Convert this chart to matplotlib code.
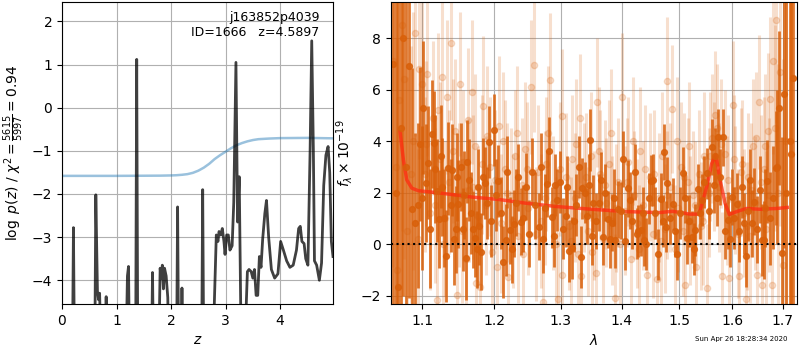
import numpy as np
import matplotlib
matplotlib.use("Agg")
import matplotlib.pyplot as plt
from matplotlib.ticker import FixedLocator, FixedFormatter, NullLocator

# ---- p(z) panel -----------------------------------------------------------
z_grid = [0.0, 0.19, 0.21, 0.23, 0.60, 0.62, 0.65, 0.67, 0.69, 0.72, 0.79, 0.81,
          0.83, 1.17, 1.20, 1.22, 1.24, 1.35, 1.37, 1.39, 1.64, 1.66, 1.68, 1.77,
          1.80, 1.82, 1.84, 1.86, 1.88, 1.91, 1.94, 1.96, 2.10, 2.12, 2.14, 2.18,
          2.20, 2.22, 2.56, 2.58, 2.60, 2.76, 2.83, 2.86, 2.88, 2.91, 2.94, 2.97,
          2.99, 3.02, 3.05, 3.08, 3.12, 3.15, 3.19, 3.22, 3.25, 3.29, 3.34, 3.40,
          3.43, 3.47, 3.50, 3.53, 3.56, 3.59, 3.62, 3.65, 3.68, 3.72, 3.75, 3.79,
          3.84, 3.90, 3.96, 4.01, 4.06, 4.12, 4.18, 4.24, 4.30, 4.34, 4.37, 4.40,
          4.44, 4.47, 4.51, 4.55, 4.58, 4.61, 4.63, 4.67, 4.72, 4.76, 4.80, 4.84,
          4.88, 4.91, 4.94, 4.97]
logpz = [-6, -6, -2.78, -6, -6, -2.02, -4.25, -4.45, -4.3, -6, -6, -4.38,
         -6, -6, -3.9, -3.68, -6, -6, 1.12, -6, -6, -3.82, -6, -6,
         -3.72, -3.95, -3.65, -4.2, -3.72, -3.9, -4.4, -6, -6, -2.3, -6, -6,
         -4.18, -6, -6, -1.9, -6, -6, -2.95, -3.1, -2.87, -2.95, -2.8, -3.1,
         -3.4, -2.95, -2.95, -3.3, -3.2, -2.2, 1.05, -2.65, -1.6, -6, -6, -3.8,
         -3.75, -3.8, -3.95, -3.75, -4.35, -4.35, -3.45, -3.7, -3.05, -2.45, -2.15, -3.0,
         -3.75, -3.95, -3.85, -3.1, -3.3, -3.55, -3.7, -3.65, -3.3, -2.8, -2.75, -3.1,
         -3.15, -3.5, -3.65, -1.0, 1.55, -1.0, -3.55, -3.65, -4.0, -3.6, -1.8, -1.1,
         -0.9, -1.5, -3.1, -3.45]

chi2_z = [0.0, 1.0, 1.8, 2.0, 2.1, 2.2, 2.3, 2.4, 2.5, 2.6, 2.7, 2.8, 2.9, 3.0, 3.1,
          3.2, 3.3, 3.4, 3.5, 3.6, 3.8, 4.0, 4.5, 4.97]
chi2_v = [-1.58, -1.58, -1.575, -1.57, -1.565, -1.555, -1.54, -1.51, -1.46, -1.39, -1.30,
          -1.19, -1.10, -1.02, -0.94, -0.87, -0.82, -0.78, -0.75, -0.73, -0.715, -0.705,
          -0.70, -0.71]

# ---- spectrum panel: dark grism (wave [um], flux, err) ---------------------
dark_wave = [1.0686, 1.0750, 1.0829, 1.0868, 1.0939, 1.0969, 1.1013, 1.1049, 1.1080, 1.1125,
             1.1156, 1.1193, 1.1228, 1.1268, 1.1315, 1.1350, 1.1404, 1.1454, 1.1485, 1.1522,
             1.1553, 1.1590, 1.1634, 1.1690, 1.1717, 1.1744, 1.1781, 1.1842, 1.1864, 1.1919,
             1.1989, 1.2051, 1.2128, 1.2163, 1.2227, 1.2288, 1.2385, 1.2462, 1.2666, 1.2732,
             1.2785, 1.2820, 1.2862, 1.2913, 1.2992, 1.3081, 1.3134, 1.3176, 1.3218, 1.3298,
             1.3346, 1.3390, 1.3427, 1.3471, 1.3525, 1.3564, 1.3652, 1.3690, 1.3763, 1.3801,
             1.3839, 1.3884, 1.3930, 1.4024, 1.4109, 1.4178, 1.4281, 1.4328, 1.4385, 1.4467,
             1.4502, 1.4542, 1.4678, 1.4737, 1.4758, 1.4790, 1.4839, 1.4887, 1.4929, 1.4970,
             1.5079, 1.5141, 1.5233, 1.5294, 1.5355, 1.5418, 1.5512, 1.5606, 1.5668, 1.5731,
             1.5815, 1.5910, 1.5988, 1.6084, 1.6266, 1.6345, 1.6424, 1.6490, 1.6578, 1.6624,
             1.6690, 1.6745, 1.6866, 1.6934, 1.6983, 1.7030, 1.7154, 1.7210,
             1.0620, 1.0655, 1.0720, 1.0790, 1.0900, 1.0990, 1.1100, 1.1170, 1.1250, 1.1290,
             1.1380, 1.1430, 1.1470, 1.1570, 1.1610, 1.1660, 1.1760, 1.1810, 1.1890, 1.1950,
             1.2020, 1.2090, 1.2190, 1.2260, 1.2320, 1.2350, 1.2420, 1.2510, 1.2560, 1.2610,
             1.2700, 1.2760, 1.2890, 1.2950, 1.3030, 1.3100, 1.3250, 1.3320, 1.3450, 1.3500,
             1.3620, 1.3720, 1.3860, 1.3980, 1.4060, 1.4140, 1.4220, 1.4250, 1.4360, 1.4420,
             1.4580, 1.4620, 1.4710, 1.5020, 1.5110, 1.5190, 1.5270, 1.5390, 1.5460, 1.5560,
             1.5640, 1.5700, 1.5770, 1.5860, 1.5950, 1.6030, 1.6130, 1.6190, 1.6220, 1.6300,
             1.6390, 1.6540, 1.6650, 1.6800, 1.6890, 1.7080, 1.7180]
dark_flux = [-1.66, 8.0, 6.9, 1.35, 1.5, 3.88, 5.3, 2.36, 3.16, 4.27,
             3.93, 2.06, 0.96, 2.2, -0.46, 2.94, 2.87, 0.57, 1.55, 3.0,
             0.57, -0.56, 2.49, 0.57, 0.22, -0.2, 0.7, 2.62, 2.36, 3.97,
             4.42, 2.43, -0.69, 0.16, 0.54, 0.78, 0.86, 2.23, 0.68, 0.18,
             2.35, 3.62, 1.03, 2.29, 2.42, 1.09, -0.26, -0.17, 0.9, 3.0,
             2.16, 2.0, 1.09, 4.04, 1.58, 0.9, 2.49, 0.28, 0.96, 0.18,
             0.83, 0.16, 1.35, 3.3, 2.16, 0.9, 0.51, 0.54, 0.16, 1.77,
             2.46, 2.49, 1.74, 3.58, 0.68, 2.38, 1.0, 1.55, 0.51, -0.4,
             2.76, 0.22, 0.28, 0.54, 2.12, 1.71, 2.74, 3.77, 3.4, 4.14,
             4.14, 0.92, 1.83, 1.55, -0.46, 2.49, 1.65, 0.57, 0.16, 0.16,
             2.43, 1.0, 2.95, 5.28, -0.36, 5.83, 4.0, 6.45,
             7.0, 2.0, 4.5, 3.0, 0.8, 1.8, 0.6, 2.9, 3.4, 1.0,
             1.5, 0.2, 2.6, 1.9, 3.2, 1.2, 2.2, -0.3, 1.6, 0.9,
             1.9, 1.2, 2.8, -0.2, 1.6, 2.6, 1.0, 0.4, 2.8, 1.5,
             3.0, 1.4, 0.3, 1.7, 0.6, 2.2, 1.5, -0.5, 2.3, 0.3,
             1.6, 2.0, 1.8, 1.3, 0.1, 1.7, 2.8, 0.4, 1.2, 0.0,
             1.2, -0.4, 0.9, 1.2, 1.8, 0.9, -0.2, 1.2, 2.4, 1.3,
             2.3, 1.8, 2.6, 0.5, 0.2, 1.0, 0.5, 2.2, 0.8, 1.3,
             0.8, 2.1, 1.4, 1.8, 3.0, 2.0, 3.5]
dark_err = [12, 10, 9, 5.5, 3.2, 3.0, 2.6, 2.3, 2.2, 2.1,
            2.0, 2.0, 1.9, 1.9, 1.8, 1.8, 1.8, 1.7, 1.7, 1.7,
            1.6, 1.6, 1.6, 1.5, 1.5, 1.5, 1.5, 1.5, 1.4, 1.4,
            1.4, 1.4, 1.4, 1.4, 1.3, 1.3, 1.3, 1.3, 1.3, 1.3,
            1.3, 1.3, 1.2, 1.2, 1.2, 1.2, 1.2, 1.2, 1.2, 1.2,
            1.2, 1.2, 1.1, 1.2, 1.1, 1.1, 1.1, 1.1, 1.1, 1.1,
            1.1, 1.1, 1.1, 1.1, 1.1, 1.1, 1.0, 1.0, 1.0, 1.0,
            1.0, 1.0, 1.0, 1.1, 1.0, 1.0, 1.0, 1.0, 1.0, 1.0,
            1.0, 1.0, 1.0, 1.0, 1.0, 1.0, 1.0, 1.1, 1.1, 1.1,
            1.1, 1.1, 1.1, 1.2, 1.2, 1.2, 1.3, 1.3, 1.4, 1.5,
            1.6, 1.8, 2.2, 3.0, 4.5, 6.0, 9.0, 12,
            12, 12, 11, 9, 3.5, 2.8, 2.3, 2.1, 2.0, 1.9,
            1.8, 1.8, 1.7, 1.7, 1.6, 1.6, 1.5, 1.5, 1.4, 1.4,
            1.4, 1.4, 1.4, 1.3, 1.3, 1.3, 1.3, 1.3, 1.3, 1.3,
            1.3, 1.3, 1.2, 1.2, 1.2, 1.2, 1.2, 1.2, 1.2, 1.1,
            1.1, 1.1, 1.1, 1.1, 1.1, 1.1, 1.1, 1.0, 1.0, 1.0,
            1.0, 1.0, 1.0, 1.0, 1.0, 1.0, 1.0, 1.0, 1.0, 1.1,
            1.1, 1.1, 1.1, 1.1, 1.1, 1.2, 1.2, 1.2, 1.2, 1.2,
            1.3, 1.3, 1.5, 2.0, 3.0, 9.0, 12]

# ---- spectrum panel: light grism -------------------------------------------
light_wave = [1.0621, 1.0650, 1.0690, 1.0759, 1.0800, 1.0850, 1.0903, 1.0940, 1.0990, 1.1030,
              1.1067, 1.1100, 1.1140, 1.1193, 1.1230, 1.1261, 1.1300, 1.1329, 1.1360, 1.1388,
              1.1420, 1.1467, 1.1500, 1.1517, 1.1560, 1.1600, 1.1640, 1.1677, 1.1720, 1.1760,
              1.1794, 1.1842, 1.1880, 1.1930, 1.1970, 1.2010, 1.2060, 1.2100, 1.2150, 1.2200,
              1.2250, 1.2300, 1.2350, 1.2400, 1.2450, 1.2500, 1.2540, 1.2594, 1.2650, 1.2690,
              1.2723, 1.2780, 1.2836, 1.2880, 1.2920, 1.2965, 1.3018, 1.3028, 1.3080, 1.3130,
              1.3180, 1.3230, 1.3280, 1.3309, 1.3326, 1.3380, 1.3430, 1.3480, 1.3530, 1.3569,
              1.3591, 1.3640, 1.3690, 1.3740, 1.3790, 1.3840, 1.3884, 1.3930, 1.3970, 1.4008,
              1.4060, 1.4110, 1.4160, 1.4210, 1.4260, 1.4310, 1.4360, 1.4427, 1.4480, 1.4530,
              1.4602, 1.4650, 1.4700, 1.4750, 1.4790, 1.4830, 1.4880, 1.4930, 1.4980, 1.5030,
              1.5070, 1.5110, 1.5160, 1.5210, 1.5260, 1.5310, 1.5360, 1.5410, 1.5460, 1.5512,
              1.5560, 1.5610, 1.5650, 1.5700, 1.5750, 1.5807, 1.5850, 1.5890, 1.5941, 1.6018,
              1.6060, 1.6100, 1.6135, 1.6180, 1.6220, 1.6263, 1.6300, 1.6350, 1.6400, 1.6450,
              1.6490, 1.6524, 1.6578, 1.6620, 1.6660, 1.6700, 1.6745, 1.6779, 1.6812, 1.6866,
              1.6910, 1.6948, 1.7017, 1.7080,
              1.0670, 1.0730, 1.0880, 1.0960, 1.1050, 1.1170, 1.1210, 1.1280, 1.1440, 1.1540,
              1.1620, 1.1700, 1.1740, 1.1820, 1.1900, 1.2040, 1.2120, 1.2180, 1.2280, 1.2330,
              1.2420, 1.2480, 1.2620, 1.2750, 1.2810, 1.2990, 1.3160, 1.3250, 1.3410, 1.3500,
              1.3620, 1.3710, 1.3810, 1.3900, 1.4090, 1.4190, 1.4290, 1.4400, 1.4560, 1.4680,
              1.4780, 1.4960, 1.5090, 1.5180, 1.5290, 1.5440, 1.5580, 1.5670, 1.5780, 1.5920,
              1.6040, 1.6160, 1.6280, 1.6370, 1.6470, 1.6560, 1.6640, 1.6720, 1.6850]
light_flux = [7.1, 3.0, 5.6, 6.4, 0.5, 2.7, 8.2, 0.2, 6.2, 2.7,
              6.6, 1.2, 4.9, -2.17, 3.3, 6.5, 1.0, 5.7, 2.4, 7.8,
              3.6, -1.98, 1.9, 6.2, 3.2, -0.6, 2.1, 5.9, 3.8, 1.1,
              -1.66, 5.36, 1.5, 3.0, -0.3, 2.5, 4.6, 0.8, 2.9, -1.3,
              1.9, 3.4, 0.3, 2.3, 3.7, 1.4, 6.1, 6.95, 2.8, 0.9,
              -2.24, 3.1, 6.37, 1.6, 0.0, -2.15, 4.97, -1.2, 2.6, 0.7,
              3.3, 1.8, -0.4, 4.88, -1.24, 2.2, 0.5, 3.4, 1.1, -1.11,
              5.51, 2.7, 0.2, 1.6, 3.1, 0.9, -2.1, 2.4, 0.0, 5.7,
              1.3, 3.2, -0.6, 1.9, 0.8, 3.6, 1.5, -1.22, 2.6, 0.4,
              -1.36, 1.8, 3.4, 0.6, 6.33, 2.2, 5.24, -0.2, 1.4, 3.0,
              0.5, -1.6, 2.4, 0.9, 1.9, -0.9, 2.7, 0.7, 3.4, -1.71,
              2.0, 4.1, 3.0, 4.5, 2.2, -1.24, 3.5, 1.7, -1.33, 5.4,
              2.1, 0.4, -1.24, 3.1, 1.2, -2.13, 2.6, 0.3, 3.8, 1.6,
              -1.22, 5.5, -1.59, 2.9, 0.6, 4.4, 5.62, -1.59, 7.1, 8.7,
              2.0, 6.7, -0.82, 4.0,
              -1.0, 8.5, 4.0, 6.8, 3.9, 1.5, 5.2, 0.0, 4.4, 0.5,
              4.8, 2.2, -1.5, 3.1, 4.2, -0.9, 4.0, 2.0, 0.9, 4.3,
              -0.4, 2.9, 0.4, 1.8, 4.3, 2.9, 0.1, 3.9, 2.6, -0.3,
              3.6, 2.3, 4.3, 1.4, 2.4, 4.0, -0.2, 2.9, 2.7, 0.1,
              1.9, 4.0, 2.6, 3.8, 1.5, 0.9, 3.4, 5.0, 3.9, 2.5,
              3.3, 2.8, 0.7, 2.1, 4.1, 2.4, 3.8, 1.9, 4.5]
light_err = [8, 9, 8, 7, 6, 5, 4, 3.5, 3.5, 3.0,
             3.2, 3.0, 3.0, 3.0, 3.0, 3.0, 3.0, 3.0, 2.8, 3.0,
             2.8, 2.8, 2.8, 2.8, 2.8, 2.8, 2.8, 2.8, 2.8, 2.7,
             2.7, 2.7, 2.7, 2.7, 2.7, 2.7, 2.7, 2.7, 2.7, 2.7,
             2.6, 2.6, 2.6, 2.6, 2.6, 2.6, 2.6, 2.6, 2.6, 2.6,
             2.6, 2.6, 2.6, 2.6, 2.6, 2.6, 2.6, 2.6, 2.5, 2.5,
             2.5, 2.5, 2.5, 2.5, 2.5, 2.5, 2.5, 2.5, 2.5, 2.5,
             2.5, 2.5, 2.5, 2.5, 2.5, 2.5, 2.5, 2.5, 2.5, 2.5,
             2.5, 2.5, 2.5, 2.5, 2.5, 2.5, 2.5, 2.5, 2.5, 2.5,
             2.5, 2.5, 2.5, 2.5, 2.5, 2.5, 2.5, 2.5, 2.5, 2.5,
             2.5, 2.5, 2.5, 2.5, 2.5, 2.5, 2.5, 2.5, 2.5, 2.5,
             2.5, 2.5, 2.5, 2.5, 2.5, 2.5, 2.5, 2.5, 2.5, 2.5,
             2.5, 2.5, 2.5, 2.5, 2.5, 2.5, 2.5, 2.6, 2.6, 2.6,
             2.6, 2.6, 2.7, 2.8, 3.0, 3.0, 3.2, 3.4, 3.6, 4.0,
             5.0, 6.0, 8.0, 9.0,
             9, 8, 5, 3.5, 3.2, 3.0, 3.0, 3.0, 2.8, 2.8,
             2.8, 2.8, 2.8, 2.7, 2.7, 2.7, 2.7, 2.7, 2.6, 2.6,
             2.6, 2.6, 2.6, 2.6, 2.6, 2.6, 2.5, 2.5, 2.5, 2.5,
             2.5, 2.5, 2.5, 2.5, 2.5, 2.5, 2.5, 2.5, 2.5, 2.5,
             2.5, 2.5, 2.5, 2.5, 2.5, 2.5, 2.5, 2.5, 2.5, 2.5,
             2.5, 2.5, 2.5, 2.6, 2.6, 2.6, 2.8, 3.0, 4.0]

# ---- best-fit model ---------------------------------------------------------
model_wave = [1.0707, 1.0750, 1.0794, 1.0860, 1.0947, 1.1238, 1.1690, 1.2065, 1.2479, 1.2965,
              1.3495, 1.4060, 1.4642, 1.4880, 1.5019, 1.5202, 1.5355, 1.5389, 1.5512, 1.5606,
              1.5681, 1.5764, 1.5859, 1.5941, 1.6084, 1.6279, 1.6544, 1.6880, 1.7098]
model_flux = [4.36, 3.26, 2.49, 2.17, 2.07, 1.98, 1.82, 1.73, 1.58, 1.45,
              1.35, 1.26, 1.22, 1.27, 1.23, 1.16, 1.16, 1.3, 2.23, 3.13,
              3.46, 2.49, 1.58, 1.15, 1.26, 1.38, 1.35, 1.38, 1.42]

root, obj_id, zbest, chi2_text = "j163852p4039", 1666, 4.5897, r"\frac{5615}{5997}=0.94"
stamp = "Sun Apr 26 18:28:34 2020"

# --------------------------------------------------------------------------- #
fig = plt.figure(figsize=(8, 3.5), dpi=100)
ax1 = fig.add_axes([62 / 800, 46 / 350, 271 / 800, 302 / 350])
ax2 = fig.add_axes([391 / 800, 46 / 350, 406 / 800, 302 / 350])

ax1.plot(chi2_z, chi2_v, color="tab:blue", alpha=0.45, lw=1.8)
ax1.plot(z_grid, logpz, color="k", alpha=0.75, lw=2)
ax1.set_xlim(0, 4.97)
ax1.set_ylim(-4.55, 2.45)
ax1.set_xticks([0, 1, 2, 3, 4])
ax1.set_yticks([-4, -3, -2, -1, 0, 1, 2])
ax1.grid(True)
ax1.set_xlabel(r"$z$")
ax1.set_ylabel(r"$\log\ p(z)$ / $\chi^2=" + chi2_text + "$")
ax1.text(0.95, 0.97, f"{root}\nID={obj_id}   z={zbest:.4f}", transform=ax1.transAxes,
         ha="right", va="top", fontsize=9)

orange = "#d9600a"
ax2.errorbar(light_wave, light_flux, light_err, color=orange, alpha=0.2, marker="o",
             ms=4.5, ls="none", elinewidth=2.2)
ax2.errorbar(dark_wave, dark_flux, dark_err, color=orange, alpha=0.85, marker="o",
             ms=4.2, ls="none", elinewidth=2.0)
ax2.plot(model_wave, model_flux, color="#ff2a10", alpha=0.75, lw=2.5)
ax2.axhline(0, color="k", ls=":", lw=1.5)
ax2.set_xscale("log")
ax2.xaxis.set_major_locator(FixedLocator([1.1, 1.2, 1.3, 1.4, 1.5, 1.6, 1.7]))
ax2.xaxis.set_major_formatter(FixedFormatter(["1.1", "1.2", "1.3", "1.4", "1.5", "1.6", "1.7"]))
ax2.xaxis.set_minor_locator(NullLocator())
ax2.set_xlim(1.059, 1.730)
ax2.set_ylim(-2.33, 9.4)
ax2.set_yticks([-2, 0, 2, 4, 6, 8])
ax2.grid(True)
ax2.set_xlabel(r"$\lambda$")
ax2.set_ylabel(r"$f_\lambda\times10^{-19}$")

fig.text(0.984, 0.031, stamp, ha="right", va="center", fontsize=5)
fig.savefig("out.png", dpi=100)
